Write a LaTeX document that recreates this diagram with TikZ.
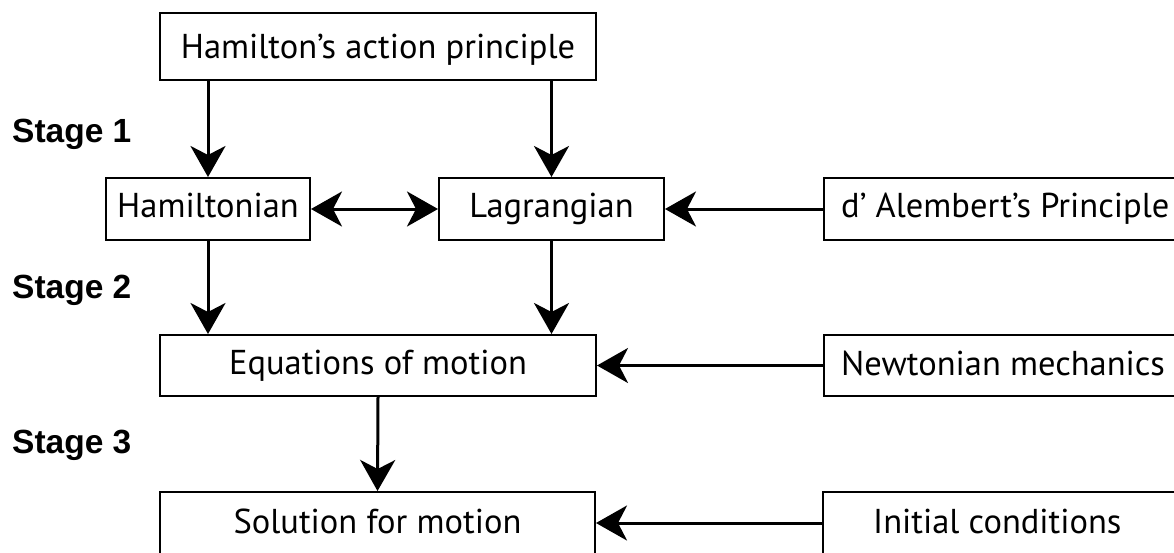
\documentclass[tikz,border=0pt]{standalone}
\usepackage{fontspec}
\setmainfont{PT Sans}
\newfontfamily\stagefont{Liberation Sans}
\usetikzlibrary{arrows.meta}
\begin{document}
\begin{tikzpicture}[x=1pt,y=-1pt,
  box/.style={draw,line width=2pt,inner sep=0pt,font=\fontsize{34.5}{40}\selectfont,
    text height=24pt,text depth=7pt,minimum height=62pt},
  conn/.style={line width=3pt,-{Stealth[length=31pt,width=35pt,inset=9pt]}},
  dconn/.style={line width=3pt,{Stealth[length=31pt,width=35pt,inset=9pt]}-{Stealth[length=31pt,width=35pt,inset=9pt]}},
  stagelbl/.style={font=\stagefont\bfseries\fontsize{33.5}{38}\selectfont,inner sep=0pt,anchor=base west}]
\useasboundingbox (0,0) rectangle (1174,552);
\clip (0,0) rectangle (1174,552);
\fill[white] (0,0) rectangle (1174,552);
% boxes
\node[box,minimum width=436pt,minimum height=67pt,text depth=0pt] (hap) at (378,46.5) {Hamilton’s action principle};
\node[box,minimum width=204pt] (ham) at (208,209) {Hamiltonian};
\node[box,minimum width=225pt] (lag) at (551.5,209) {Lagrangian};
\node[box,minimum width=370pt,anchor=west,
  label={[font=\fontsize{34.5}{40}\selectfont,text height=24pt,text depth=7pt,inner sep=0pt,anchor=west,xshift=18pt]west:d’ Alembert’s Principle}] (dal) at (823,209) {};
\node[box,minimum width=436pt,minimum height=61pt] (eq) at (378,365.5) {Equations of motion};
\node[box,minimum width=370pt,minimum height=61pt,anchor=west,
  label={[font=\fontsize{34.5}{40}\selectfont,text height=24pt,text depth=5pt,inner sep=0pt,anchor=west,xshift=18pt]west:Newtonian mechanics}] (newt) at (823,365.5) {};
\node[box,minimum width=435pt,text depth=4pt] (sol) at (377.5,523) {Solution for motion};
\node[box,minimum width=370pt,anchor=west,
  label={[font=\fontsize{34.5}{40}\selectfont,text height=24pt,text depth=4pt,inner sep=0pt,anchor=west,xshift=51pt]west:Initial conditions}] (init) at (822,523) {};
% stage labels
\node[stagelbl] (s1) at (12,142) {Stage 1};
\node[stagelbl] (s2) at (12,298) {Stage 2};
\node[stagelbl] (s3) at (12,453) {Stage 3};
% connectors
\draw[conn] (hap.south -| ham.north) -- (ham.north);
\draw[conn] (hap.south -| lag.north) -- (lag.north);
\draw[dconn] (ham.east) -- (lag.west);
\draw[conn] (dal.west) -- (lag.east);
\draw[conn] (ham.south) -- (ham.south |- eq.north);
\draw[conn] (lag.south) -- (lag.south |- eq.north);
\draw[conn] (newt.west) -- (eq.east);
\draw[conn] (eq.south) -- (sol.north);
\draw[conn] (init.west) -- (sol.east);
\end{tikzpicture}
\end{document}
